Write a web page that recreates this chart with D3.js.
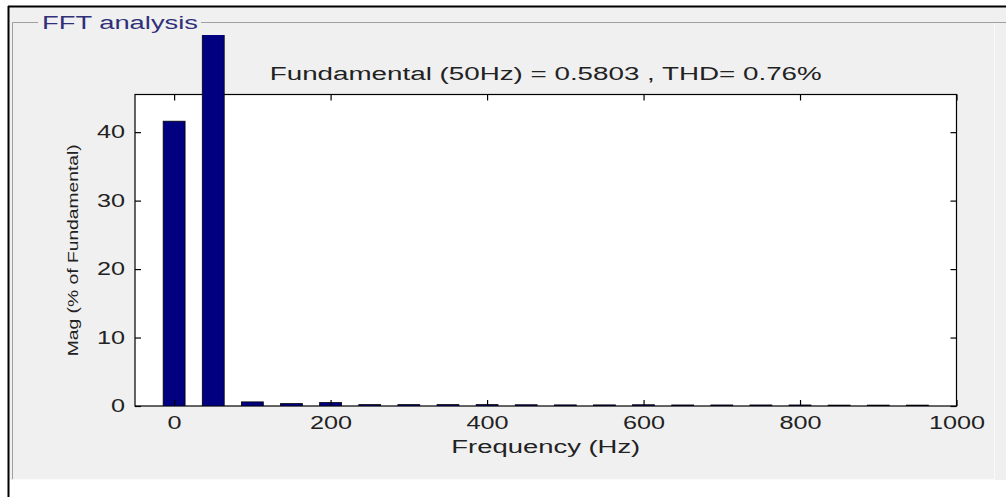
<!DOCTYPE html>
<html>
<head>
<meta charset="utf-8">
<script src="https://cdn.jsdelivr.net/npm/d3@7"></script>
<style>
  body { margin: 0; background: #fff; }
  text { font-family: Arial, "Liberation Sans", sans-serif; }
</style>
</head>
<body>
<div id="chart"></div>
<script>

/* values */
let freqs = [0, 50, 100, 150, 200, 250, 300, 350, 400, 450, 500,
             550, 600, 650, 700, 750, 800, 850, 900, 950];
let mags  = [41.6, 100, 0.6, 0.35, 0.5, 0.2, 0.2, 0.2, 0.2, 0.18, 0.16,
             0.16, 0.18, 0.15, 0.15, 0.15, 0.15, 0.13, 0.13, 0.13];
let xTicks = [0, 200, 400, 600, 800, 1000];
let yTicks = [0, 10, 20, 30, 40];
let xDomain = [-50, 1000];
let yDomain = [0, 45.5];
let titleText = "Fundamental (50Hz) = 0.5803 , THD= 0.76%";
let panelTitle = "FFT analysis";

/* dimensions */
let width = 1006;
let height = 497;
let plot = {left: 135, right: 956.5, top: 94.5, bottom: 406};
let barHalf = 14;      // half bar width in Hz
let stretch = 1.4;     // screenshot is wider than it is tall
let barTopClip = 35;

let svg = d3.select("#chart")
            .append("svg")
              .attr("width", width)
              .attr("height", height);

// window background and frame
svg.append("rect")
   .attr("x", 9).attr("y", 7)
   .attr("width", width - 9).attr("height", 473)
   .attr("fill", "#f0f0f0");

svg.append("line")
   .attr("x1", 8).attr("x2", width).attr("y1", 6.5).attr("y2", 6.5)
   .attr("stroke", "#000").attr("stroke-width", 2);
svg.append("line")
   .attr("x1", 8.5).attr("x2", 8.5).attr("y1", 6).attr("y2", height)
   .attr("stroke", "#000").attr("stroke-width", 2);

// group box
let gb = svg.append("g").attr("stroke", "#a0a0a0").attr("fill", "none");
gb.append("line").attr("x1", 12.5).attr("x2", 38).attr("y1", 22.5).attr("y2", 22.5);
gb.append("line").attr("x1", 201).attr("x2", width).attr("y1", 22.5).attr("y2", 22.5);
gb.append("line").attr("x1", 12.5).attr("x2", 12.5).attr("y1", 22.5).attr("y2", 479.5);
gb.append("line").attr("x1", 12.5).attr("x2", 994.5).attr("y1", 479.5).attr("y2", 479.5)
  .attr("stroke", "#fafafa");
gb.append("line").attr("x1", 994.5).attr("x2", 994.5).attr("y1", 23).attr("y2", 479.5)
  .attr("stroke", "#fafafa");

svg.append("text")
   .attr("x", 42).attr("y", 28.5)
   .attr("font-size", 18)
   .attr("fill", "#30307a")
   .attr("textLength", 156)
   .attr("lengthAdjust", "spacingAndGlyphs")
   .text(panelTitle);

// scales
let xScale = d3.scaleLinear()
               .domain(xDomain)
               .range([plot.left, plot.right]);

let yScale = d3.scaleLinear()
               .domain(yDomain)
               .range([plot.bottom, plot.top]);

// axes box
svg.append("rect")
   .attr("x", plot.left).attr("y", plot.top)
   .attr("width", plot.right - plot.left)
   .attr("height", plot.bottom - plot.top)
   .attr("fill", "#fff")
   .attr("stroke", "#000")
   .attr("stroke-width", 1.2);

// bars (clipped a little above the axes, like the original)
svg.append("clipPath")
   .attr("id", "barclip")
   .append("rect")
     .attr("x", plot.left).attr("y", barTopClip)
     .attr("width", plot.right - plot.left)
     .attr("height", plot.bottom - barTopClip);

let data = freqs.map((f, i) => ({f: f, m: mags[i]}));

svg.append("g")
   .attr("clip-path", "url(#barclip)")
   .selectAll("rect")
   .data(data)
   .enter()
   .append("rect")
     .attr("x", d => xScale(d.f - barHalf))
     .attr("width", d => xScale(d.f + barHalf) - xScale(d.f - barHalf))
     .attr("y", d => yScale(d.m))
     .attr("height", d => yScale(0) - yScale(d.m))
     .attr("fill", "#000080")
     .attr("stroke", "#000")
     .attr("stroke-width", 0.8);

// ticks (inward, on all four sides); labels widened by hand and re-anchored
function styleAxis(g, anchor) {
  g.select(".domain").remove();
  g.selectAll(".tick line").attr("stroke", "#000").attr("stroke-width", 1.2);
  g.selectAll("text")
   .attr("font-size", 18)
   .attr("fill", "#222")
   .each(function() {
     let len = this.getComputedTextLength() * stretch;
     let t = d3.select(this)
               .attr("textLength", len)
               .attr("lengthAdjust", "spacingAndGlyphs")
               .attr("text-anchor", "start");
     if (anchor === "end") t.attr("x", -10 - len);
     if (anchor === "middle") t.attr("x", -len / 2);
   });
}

svg.append("g")
   .attr("transform", `translate(0, ${plot.bottom})`)
   .call(d3.axisBottom(xScale).tickValues(xTicks).tickSize(-6).tickPadding(10)
           .tickFormat(d3.format("d")))
   .call(g => styleAxis(g, "middle"));

svg.append("g")
   .attr("transform", `translate(0, ${plot.top})`)
   .call(d3.axisTop(xScale).tickValues(xTicks).tickSize(-6).tickFormat(""))
   .call(g => styleAxis(g, "none"));

svg.append("g")
   .attr("transform", `translate(${plot.left}, 0)`)
   .call(d3.axisLeft(yScale).tickValues(yTicks).tickSize(-6).tickPadding(10)
           .tickFormat(d3.format("d")))
   .call(g => styleAxis(g, "end"));

svg.append("g")
   .attr("transform", `translate(${plot.right}, 0)`)
   .call(d3.axisRight(yScale).tickValues(yTicks).tickSize(-6).tickFormat(""))
   .call(g => styleAxis(g, "none"));

// labels
let midX = (plot.left + plot.right) / 2;

svg.append("text")
   .attr("x", midX).attr("y", 80)
   .attr("text-anchor", "middle")
   .attr("font-size", 18)
   .attr("fill", "#222")
   .attr("textLength", 552)
   .attr("lengthAdjust", "spacingAndGlyphs")
   .text(titleText);

svg.append("text")
   .attr("x", midX).attr("y", 453)
   .attr("text-anchor", "middle")
   .attr("font-size", 18)
   .attr("fill", "#222")
   .attr("textLength", 189)
   .attr("lengthAdjust", "spacingAndGlyphs")
   .text("Frequency (Hz)");

svg.append("text")
   .attr("transform", `translate(78, ${(plot.top + plot.bottom) / 2}) rotate(-90)`)
   .attr("text-anchor", "middle")
   .attr("font-size", 15)
   .attr("fill", "#222")
   .attr("textLength", 212)
   .attr("lengthAdjust", "spacingAndGlyphs")
   .text("Mag (% of Fundamental)");

</script>
</body>
</html>
